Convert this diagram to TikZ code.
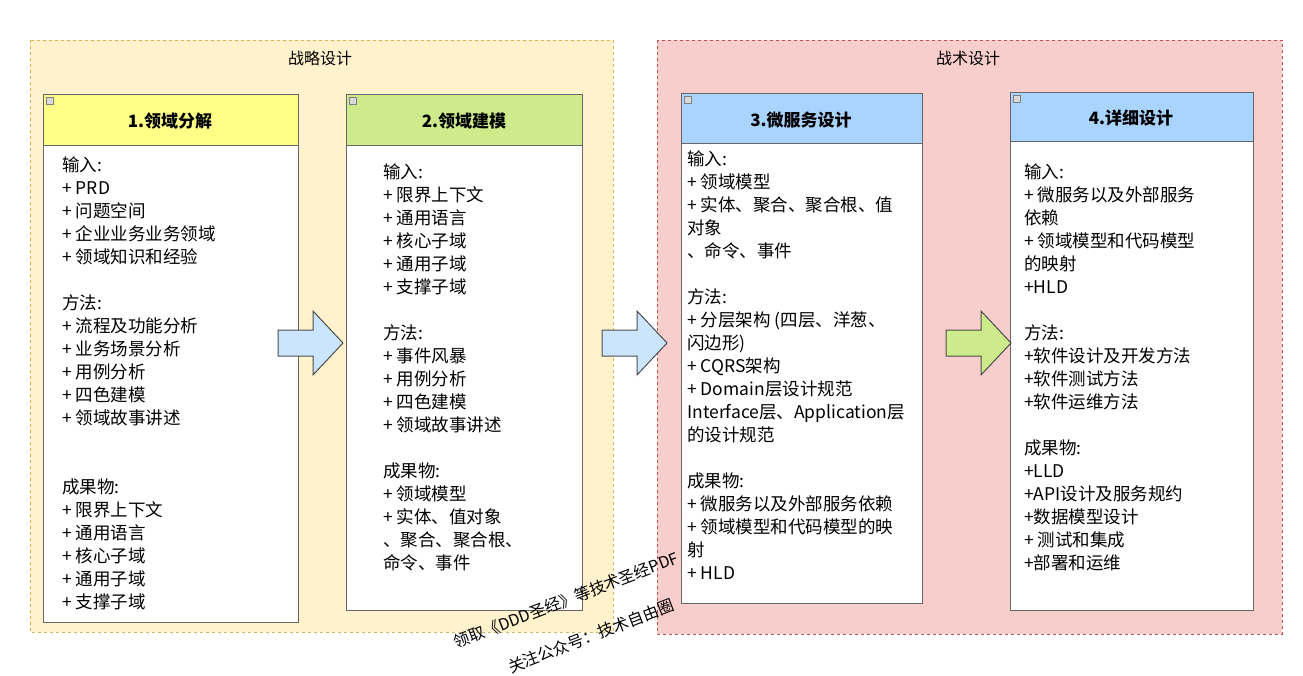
\documentclass[tikz,border=0pt]{standalone}
\usepackage{fontspec}
\setmainfont{Noto Sans CJK SC}
\usetikzlibrary{positioning}
\definecolor{stratFill}{HTML}{FFF2CC}
\definecolor{stratLine}{HTML}{D6B656}
\definecolor{tactFill}{HTML}{F8CECC}
\definecolor{tactLine}{HTML}{B85450}
\definecolor{headYellow}{HTML}{FFFF88}
\definecolor{headGreen}{HTML}{CDEB8B}
\definecolor{headBlue}{HTML}{A9D4FF}
\definecolor{arrowBlue}{HTML}{CCE5FF}
\tikzset{
  group/.style={draw=#1, dashed, line width=0.8pt},
  card/.style={draw=gray!80!black, line width=1pt, fill=white},
  body/.style={anchor=north west, align=left, inner sep=0pt,
    font=\fontsize{17.5}{23}\selectfont},
  head/.style={font=\fontsize{17}{20}\selectfont\bfseries},
  grouplabel/.style={font=\fontsize{16}{20}\selectfont},
  bigarrow/.style={draw=black!70, line width=1pt, fill=#1, line join=miter},
  wmark/.style={font=\fontsize{16}{18}\selectfont, rotate=21},
  minus/.style={draw=gray, fill=gray!30, minimum size=7pt, inner sep=0pt}
}
\newcommand{\blockarrow}[3]{% x-left, y-center, fill
  \filldraw[bigarrow=#3] (#1,#2-13) -- ++(35,0) -- ++(0,-19) -- ++(30,32)
    -- ++(-30,32) -- ++(0,-19) -- ++(-35,0) -- cycle;}
\begin{document}
\begin{tikzpicture}[x=1pt,y=-1pt]
\useasboundingbox (0,0) rectangle (1303,675);
% groups
\filldraw[group=stratLine, fill=stratFill] (30,40) rectangle (613,632);
\filldraw[group=tactLine, fill=tactFill] (657,40) rectangle (1282,634);
\node[grouplabel] (strat) at (320,58) {战略设计};
\node[grouplabel] (tact) at (968,58) {战术设计};
% card 1
\filldraw[card] (43,94) rectangle (298,622);
\filldraw[card, fill=headYellow] (43,94) rectangle (298,145);
\node[minus] at (50,101) {};
\node[head] (h1) at (170,121) {1.领域分解};
\node[body] (b1) at (62,157) {输入:\\+ PRD\\+ 问题空间\\+ 企业业务业务领域\\+ 领域知识和经验\\[23pt]
方法:\\+ 流程及功能分析\\+ 业务场景分析\\+ 用例分析\\+ 四色建模\\+ 领域故事讲述\\[46pt]
成果物:\\+ 限界上下文\\+ 通用语言\\+ 核心子域\\+ 通用子域\\+ 支撑子域};
% card 2
\filldraw[card] (346,94) rectangle (582,610);
\filldraw[card, fill=headGreen] (346,94) rectangle (582,145);
\node[minus] at (353,101) {};
\node[head] (h2) at (464,121) {2.领域建模};
\node[body] (b2) at (383,164) {输入:\\+ 限界上下文\\+ 通用语言\\+ 核心子域\\+ 通用子域\\+ 支撑子域\\[23pt]
方法:\\+ 事件风暴\\+ 用例分析\\+ 四色建模\\+ 领域故事讲述\\[23pt]
成果物:\\+ 领域模型\\+ 实体、值对象\\、聚合、聚合根、\\命令、事件};
% card 3
\filldraw[card] (681,93) rectangle (922,603);
\filldraw[card, fill=headBlue] (681,93) rectangle (922,143);
\node[minus] at (688,100) {};
\node[head] (h3) at (801,120) {3.微服务设计};
\node[body] (b3) at (687,151) {输入:\\+ 领域模型\\+ 实体、聚合、聚合根、值\\对象\\、命令、事件\\[23pt]
方法:\\+ 分层架构 (四层、洋葱、\\闪边形)\\+ CQRS架构\\+ Domain层设计规范\\Interface层、Application层\\的设计规范\\[23pt]
成果物:\\+ 微服务以及外部服务依赖\\+ 领域模型和代码模型的映\\射\\+ HLD};
% card 4
\filldraw[card] (1010,92) rectangle (1253,610);
\filldraw[card, fill=headBlue] (1010,92) rectangle (1253,141);
\node[minus] at (1017,99) {};
\node[head] (h4) at (1131,118) {4.详细设计};
\node[body] (b4) at (1024,164) {输入:\\+ 微服务以及外部服务\\依赖\\+ 领域模型和代码模型\\的映射\\+HLD\\[23pt]
方法:\\+软件设计及开发方法\\+软件测试方法\\+软件运维方法\\[23pt]
成果物:\\+LLD\\+API设计及服务规约\\+数据模型设计\\+ 测试和集成\\+部署和运维};
% arrows
\blockarrow{278}{343}{arrowBlue}
\blockarrow{602}{343}{arrowBlue}
\blockarrow{946}{343}{headGreen}
% watermark
\node[wmark] (m1) at (566,600) {领取《DDD圣经》等技术圣经PDF};
\node[wmark] (m2) at (591,636) {关注公众号：技术自由圈};
\end{tikzpicture}
\end{document}
